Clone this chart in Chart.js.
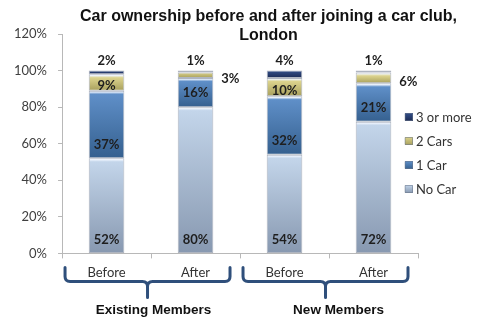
<!DOCTYPE html>
<html lang="en">
<head>
<meta charset="UTF-8">
<title>Car ownership and car clubs</title>
<style>
  html, body { margin: 0; padding: 0; background: #fff; }
  #wrap { width: 481px; height: 323px; }
</style>
</head>
<body>
<div id="wrap"><canvas id="myChart"></canvas></div>
<script src="https://cdn.jsdelivr.net/npm/chart.js"></script>
<script>
// survey shares, % of members in each column
const categories = ['Before', 'After', 'Before', 'After'];
const groups = ['Existing Members', 'New Members'];
const noCar = [52, 80, 54, 72];
const oneCar = [37, 16, 32, 21];
const twoCars = [9, 3, 10, 6];
const threePlus = [2, 1, 4, 1];
const yTicks = [0, 20, 40, 60, 80, 100, 120];

const titleLines = ['Car ownership before and after joining a car club,', 'London'];

// top / bottom shade of each series
const shades = {
  noCar: ['#c3d5ea', '#8798b0'],
  oneCar: ['#5f8fc8', '#35608f'],
  twoCars: ['#dcd38d', '#a79f5c'],
  threePlus: ['#34508a', '#1c2b55']
};

// vertical gradient over one stacked segment, with a light rim on top
function segFill(pair) {
  return function (c) {
    const chart = c.chart;
    if (!chart.chartArea || c.dataIndex === undefined) return pair[1];
    const y = chart.scales.y;
    const ds = chart.data.datasets;
    let start = 0;
    for (let i = 0; i < c.datasetIndex; i++) start += ds[i].data[c.dataIndex];
    const end = start + ds[c.datasetIndex].data[c.dataIndex];
    const y0 = y.getPixelForValue(end);
    const y1 = y.getPixelForValue(start);
    const h = Math.max(y1 - y0, 1);
    const g = chart.ctx.createLinearGradient(0, y0, 0, y1);
    g.addColorStop(0, pair[0]);
    if (h > 8) {
      g.addColorStop(1.2 / h, 'rgba(240,246,255,1)');
      g.addColorStop(3.5 / h, pair[0]);
    }
    g.addColorStop(1, pair[1]);
    return g;
  };
}

function series(label, data, pair) {
  return {
    label: label,
    data: data,
    backgroundColor: segFill(pair),
    legendColor: pair,
    borderColor: 'rgba(110,120,140,0.55)',
    borderWidth: 1,
    borderSkipped: false,
    barPercentage: 0.8,
    categoryPercentage: 0.5
  };
}

const font = 'Lato, "Open Sans", sans-serif';

// value labels next to each segment
const valueLabels = {
  id: 'valueLabels',
  afterDatasetsDraw(chart) {
    const ctx = chart.ctx;
    ctx.save();
    ctx.font = 'bold 13px ' + font;
    ctx.fillStyle = '#1e1e1e';
    ctx.textAlign = 'center';
    ctx.textBaseline = 'middle';
    chart.data.datasets.forEach((ds, di) => {
      chart.getDatasetMeta(di).data.forEach((el, i) => {
        const v = ds.data[i];
        const txt = v + '%';
        let x = el.x, y;
        if (di === 0) y = el.base - 13;
        else if (di === 1) y = el.base - 14;
        else if (di === 2) {
          if (v < 8) { x = el.x + el.width / 2 + 17; y = (el.y + el.base) / 2 + 4; }
          else y = el.base - 5;
        } else y = el.y - 10;
        ctx.fillText(txt, x, y);
      });
    });
    ctx.restore();
  }
};

// title, braces under the category pairs, group names, legend
const decorations = {
  id: 'decorations',
  afterDraw(chart) {
    const ctx = chart.ctx;
    const area = chart.chartArea;
    const xs = chart.scales.x;
    ctx.save();

    ctx.fillStyle = '#111';
    ctx.font = 'bold 16px "Liberation Sans", Arial, sans-serif';
    ctx.textAlign = 'center';
    ctx.textBaseline = 'middle';
    ctx.fillText(titleLines[0], chart.width / 2 + 28, 17);
    ctx.fillText(titleLines[1], chart.width / 2 + 28, 36);

    const half = (xs.getPixelForValue(1) - xs.getPixelForValue(0)) / 2;
    const top = area.bottom + 14, hy = area.bottom + 28, tip = area.bottom + 44, r = 5;
    const shift = [6, 13];
    groups.forEach((name, gi) => {
      const L = xs.getPixelForValue(gi * 2) - half + 3;
      const R = xs.getPixelForValue(gi * 2 + 1) + half - 10;
      const M = (L + R) / 2;
      ctx.strokeStyle = '#2f4f7b';
      ctx.lineWidth = 3;
      ctx.lineCap = 'round';
      ctx.lineJoin = 'round';
      ctx.beginPath();
      ctx.moveTo(L, top);
      ctx.lineTo(L, hy - r);
      ctx.quadraticCurveTo(L, hy, L + r, hy);
      ctx.lineTo(M - r, hy);
      ctx.quadraticCurveTo(M, hy, M, hy + r);
      ctx.lineTo(M, tip);
      ctx.moveTo(M, hy + r);
      ctx.quadraticCurveTo(M, hy, M + r, hy);
      ctx.lineTo(R - r, hy);
      ctx.quadraticCurveTo(R, hy, R, hy - r);
      ctx.lineTo(R, top);
      ctx.stroke();

      ctx.fillStyle = '#111';
      ctx.font = 'bold 13.5px "Liberation Sans", Arial, sans-serif';
      ctx.fillText(name, M + shift[gi], area.bottom + 57);
    });

    // legend, last series on top
    const ds = chart.data.datasets.slice().reverse();
    const lx = area.right - 13;
    let ly = area.top + 83;
    ctx.font = '13px ' + font;
    ctx.textAlign = 'left';
    ds.forEach(d => {
      const g = ctx.createLinearGradient(0, ly - 4, 0, ly + 4);
      g.addColorStop(0, d.legendColor[0]);
      g.addColorStop(1, d.legendColor[1]);
      ctx.fillStyle = g;
      ctx.fillRect(lx, ly - 4, 8, 8);
      ctx.strokeStyle = 'rgba(110,120,140,0.7)';
      ctx.lineWidth = 0.8;
      ctx.strokeRect(lx + 0.5, ly - 3.5, 7, 7);
      ctx.fillStyle = '#333';
      ctx.fillText(d.label, lx + 11, ly + 1);
      ly += 24;
    });
    ctx.restore();
  }
};

new Chart(document.getElementById('myChart'), {
  type: 'bar',
  data: {
    labels: categories,
    datasets: [
      series('No Car', noCar, shades.noCar),
      series('1 Car', oneCar, shades.oneCar),
      series('2 Cars', twoCars, shades.twoCars),
      series('3 or more', threePlus, shades.threePlus)
    ]
  },
  options: {
    responsive: true,
    maintainAspectRatio: false,
    animation: false,
    layout: { padding: { top: 34, left: 3, right: 63, bottom: 35 } },
    plugins: {
      legend: { display: false },
      title: { display: false },
      tooltip: { enabled: false }
    },
    scales: {
      x: {
        stacked: true,
        grid: { drawOnChartArea: false, offset: true, tickLength: 5, color: '#b8b8b8' },
        border: { color: '#b8b8b8' },
        ticks: { color: '#333', padding: 7, font: { family: font, size: 13 } }
      },
      y: {
        stacked: true,
        min: 0,
        max: 120,
        afterBuildTicks(axis) { axis.ticks = yTicks.map(v => ({ value: v })); },
        grid: { drawOnChartArea: false, tickLength: 4, color: '#b8b8b8' },
        border: { color: '#b8b8b8' },
        ticks: { color: '#404040', padding: 11, font: { family: font, size: 13 }, callback: v => v + '%' }
      }
    }
  },
  plugins: [valueLabels, decorations]
});
</script>
</body>
</html>
